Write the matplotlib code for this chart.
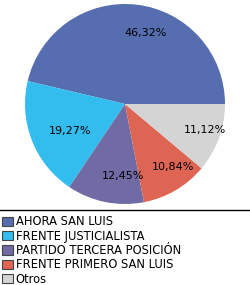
import matplotlib
matplotlib.use("Agg")
import matplotlib.pyplot as plt
from matplotlib.lines import Line2D
from matplotlib.patches import Patch
from matplotlib.transforms import offset_copy

partidos = ["AHORA SAN LUIS", "FRENTE JUSTICIALISTA", "PARTIDO TERCERA POSICIÓN",
            "FRENTE PRIMERO SAN LUIS", "Otros"]
votos = [46.32, 19.27, 12.45, 10.84, 11.12]
colores = ["#566DAF", "#33BDEF", "#706BA5", "#DE6454", "#D4D4D4"]


def pct_fmt(p):
    return ("%.2f" % p).replace(".", ",") + "%"


fig = plt.figure(figsize=(2.5, 2.85), dpi=100)
ax = fig.add_axes([0.1, 81 / 285, 0.8, 200 / 285])
wedges, texts, autotexts = ax.pie(votos, colors=colores, startangle=0, counterclock=True,
                                  autopct=pct_fmt, pctdistance=0.72,
                                  wedgeprops={"linewidth": 0},
                                  textprops={"fontsize": 8, "color": "black"})
# labels in the original sit a bit to the right of the slice centre
for t in autotexts:
    t.set_transform(offset_copy(t.get_transform(), fig=fig, x=12, y=-1, units="dots"))
ax.set_xlim(-1, 1)
ax.set_ylim(-1, 1)
ax.set_aspect("auto")
ax.axis("off")

# separator line above legend
fig.add_artist(Line2D([0, 1], [1 - 210 / 285, 1 - 210 / 285],
                      transform=fig.transFigure, color="black", linewidth=1))

handles = [Patch(facecolor=c, edgecolor="#444444", linewidth=0.8) for c in colores]
fig.legend(handles, partidos, loc="upper left",
           bbox_to_anchor=(0.0, 1 - 213 / 285), frameon=False,
           fontsize=8.3, handlelength=0.95, handleheight=0.85,
           handletextpad=0.2, labelspacing=0.12, borderaxespad=0,
           borderpad=0.2)

fig.savefig("out.png", dpi=100)
